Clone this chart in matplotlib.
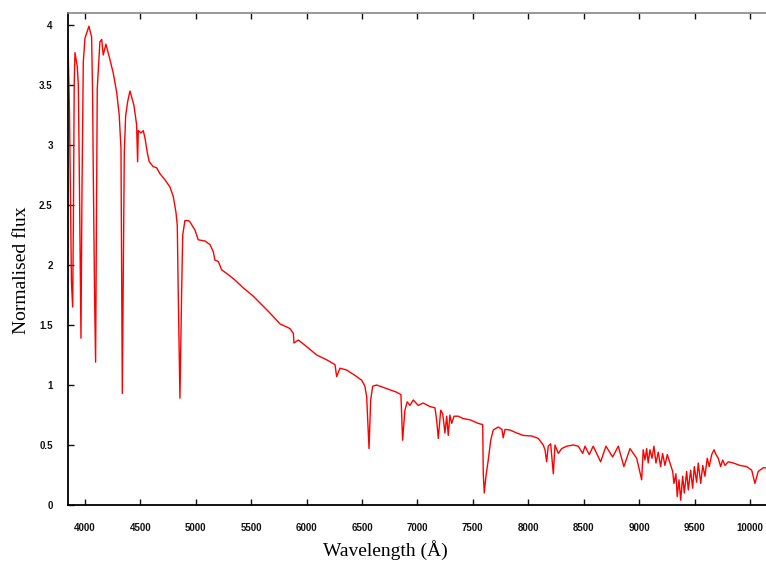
import matplotlib
matplotlib.use("Agg")
import matplotlib.pyplot as plt
import numpy as np

# wavelength (Angstrom) and normalised flux
wavelength = [
    3847, 3853, 3860, 3869, 3878, 3889, 3896, 3903, 3910, 3931,
    3940, 3949, 3958, 3964, 3973, 3985, 4000, 4036, 4060, 4069,
    4075, 4087, 4096, 4105, 4111, 4135, 4151, 4165, 4189, 4226,
    4255, 4286, 4309, 4325, 4337, 4355, 4367, 4385, 4406, 4421,
    4442, 4466, 4475, 4481, 4505, 4526, 4541, 4562, 4580, 4616,
    4647, 4677, 4722, 4767, 4797, 4821, 4833, 4842, 4857, 4873,
    4882, 4902, 4932, 4947, 4993, 5022, 5083, 5128, 5158, 5173,
    5203, 5233, 5293, 5353, 5428, 5519, 5594, 5669, 5759, 5850,
    5880, 5886, 5925, 6000, 6091, 6181, 6256, 6271, 6301, 6361,
    6436, 6497, 6526, 6542, 6563, 6578, 6596, 6632, 6722, 6812,
    6851, 6866, 6887, 6908, 6932, 6962, 7007, 7052, 7113, 7158,
    7173, 7188, 7210, 7228, 7248, 7264, 7278, 7293, 7309, 7330,
    7368, 7413, 7474, 7549, 7589, 7594, 7603, 7618, 7639, 7661,
    7684, 7729, 7762, 7774, 7790, 7835, 7895, 7955, 8031, 8090,
    8135, 8151, 8166, 8180, 8202, 8226, 8241, 8271, 8301, 8346,
    8406, 8451, 8491, 8512, 8550, 8586, 8653, 8701, 8761, 8812,
    8863, 8918, 8978, 9023, 9037, 9053, 9068, 9082, 9098, 9116,
    9134, 9152, 9173, 9194, 9212, 9233, 9254, 9278, 9303, 9314,
    9332, 9344, 9360, 9375, 9393, 9408, 9429, 9444, 9465, 9483,
    9498, 9519, 9534, 9556, 9574, 9594, 9615, 9633, 9655, 9676,
    9694, 9714, 9736, 9754, 9775, 9805, 9850, 9910, 9971, 10016,
    10045, 10075, 10120, 10145,
]
flux = [
    3.87, 3.60, 3.30, 2.60, 1.86, 1.65, 2.40, 3.50, 3.77, 3.65,
    3.50, 2.78, 1.94, 1.39, 2.61, 3.69, 3.89, 3.99, 3.90, 3.42,
    2.78, 1.73, 1.19, 2.50, 3.47, 3.86, 3.88, 3.75, 3.84, 3.71,
    3.60, 3.44, 3.25, 2.97, 0.93, 2.94, 3.24, 3.36, 3.45, 3.40,
    3.33, 3.17, 2.86, 3.12, 3.10, 3.12, 3.06, 2.94, 2.86, 2.82,
    2.81, 2.76, 2.71, 2.65, 2.57, 2.44, 2.33, 1.75, 0.89, 1.81,
    2.25, 2.37, 2.37, 2.36, 2.29, 2.21, 2.20, 2.17, 2.11, 2.04,
    2.03, 1.96, 1.92, 1.875, 1.81, 1.74, 1.67, 1.60, 1.51, 1.47,
    1.43, 1.35, 1.375, 1.32, 1.25, 1.21, 1.17, 1.07, 1.14, 1.125,
    1.08, 1.04, 0.99, 0.90, 0.47, 0.875, 0.99, 1.00, 0.97, 0.94,
    0.92, 0.54, 0.79, 0.86, 0.83, 0.875, 0.83, 0.85, 0.82, 0.81,
    0.71, 0.555, 0.79, 0.76, 0.60, 0.74, 0.58, 0.75, 0.68, 0.74,
    0.74, 0.72, 0.71, 0.68, 0.67, 0.26, 0.10, 0.24, 0.375, 0.54,
    0.625, 0.65, 0.63, 0.56, 0.63, 0.625, 0.60, 0.58, 0.575, 0.555,
    0.50, 0.46, 0.36, 0.49, 0.51, 0.26, 0.50, 0.43, 0.47, 0.49,
    0.50, 0.49, 0.43, 0.49, 0.42, 0.49, 0.36, 0.49, 0.40, 0.49,
    0.32, 0.47, 0.39, 0.21, 0.46, 0.375, 0.47, 0.35, 0.46, 0.39,
    0.49, 0.35, 0.44, 0.32, 0.43, 0.33, 0.42, 0.35, 0.28, 0.18,
    0.26, 0.07, 0.21, 0.04, 0.24, 0.10, 0.28, 0.125, 0.29, 0.14,
    0.32, 0.19, 0.35, 0.18, 0.33, 0.24, 0.39, 0.32, 0.42, 0.46,
    0.42, 0.39, 0.32, 0.375, 0.33, 0.36, 0.35, 0.33, 0.32, 0.29,
    0.18, 0.28, 0.31, 0.31,
]
x_ticks = [4000, 4500, 5000, 5500, 6000, 6500, 7000, 7500, 8000, 8500, 9000, 9500, 10000]
y_ticks = [0, 0.5, 1, 1.5, 2, 2.5, 3, 3.5, 4]
y_tick_labels = ["0", "0.5", "1", "1.5", "2", "2.5", "3", "3.5", "4"]

fig = plt.figure(figsize=(7.66, 5.66), dpi=100)
ax = fig.add_axes([68 / 766, 61 / 566, 698 / 766, 492 / 566])

ax.plot(wavelength, flux, color="red", lw=1.0)

ax.set_xlim(3847, 10145)
ax.set_ylim(0, 4.1)
ax.set_xticks(x_ticks)
ax.set_yticks(y_ticks)
ax.set_yticklabels(y_tick_labels)

ax.tick_params(direction="in", length=4, width=1, top=True, right=False,
               labelsize=7, colors="#111111")
ax.tick_params(axis="x", pad=13)
ax.tick_params(axis="y", pad=11)
for lab in ax.get_xticklabels() + ax.get_yticklabels():
    lab.set_family("Liberation Sans")
    lab.set_fontweight("bold")

ax.spines["right"].set_visible(False)
ax.spines["top"].set_color("#888888")
ax.spines["top"].set_linewidth(1.2)
ax.spines["left"].set_linewidth(1.3)
ax.spines["bottom"].set_linewidth(1.3)

ax.set_xlabel("Wavelength (Å)", family="Liberation Serif", fontsize=14)
ax.set_ylabel("Normalised flux", family="Liberation Serif", fontsize=14)
ax.xaxis.set_label_coords(0.454, -0.072)
ax.yaxis.set_label_coords(-0.055, 0.478)

fig.savefig("out.png", dpi=100)
